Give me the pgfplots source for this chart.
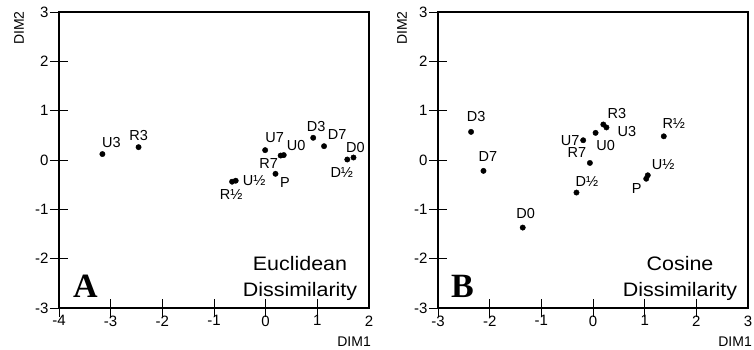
\documentclass[border=0pt]{standalone}
\usepackage{fontspec}
\setmainfont{Liberation Sans}
\newfontfamily\serifb{Liberation Serif}
\newfontfamily\widesans{Liberation Sans}[FakeStretch=1.1]
\usepackage{pgfplots}
\usepackage{pgfplotstable}
\pgfplotsset{compat=1.18}

\pgfplotstableread{
x y lab dx dy
-3.16 0.12 U3 9 11.5
-2.46 0.26 R3 0 12
-0.01 0.20 U7 9.5 12.5
0.35 0.10 U0 12.5 9.5
0.29 0.09 R7 -12 -7.5
0.92 0.45 D3 3 11.5
1.13 0.28 D7 13 12
1.70 0.05 D0 2 10.5
1.58 0.01 D½ -5.5 -13
0.19 -0.28 P 9.5 -8.5
-0.58 -0.42 U½ 18.5 0
-0.65 -0.44 R½ -1 -13
}\eucl

\pgfplotstableread{
x y lab dx dy
-2.36 0.57 D3 5 15
-2.12 -0.22 D7 4.5 14.5
-1.36 -1.37 D0 3 14.5
-0.32 -0.66 D½ 10.5 11.5
-0.06 -0.06 R7 -13 10
-0.19 0.40 U7 -13 0
0.05 0.55 U0 10 -12.5
0.20 0.72 R3 13.5 10.5
0.26 0.66 U3 20.5 -4
1.37 0.48 R½ 10 12.5
1.06 -0.31 U½ 15.5 11
1.03 -0.38 P -9.5 -9.5
}\cosn

\pgfplotsset{
  mds/.style={
    scale only axis, width=310pt, height=296pt,
    ymin=-3, ymax=3, ytick={-3,...,3},
    axis line style={line width=1.2pt, black},
    every tick/.style={black, line width=0.9pt},
    major tick length=18pt,
    xtick pos=bottom, ytick pos=left,
    xtick align=center, ytick align=center,
    xtick style={shorten <=9pt, shorten >=6pt},
    ytick style={shorten >=5pt},
    tick label style={font=\fontsize{15}{17}\selectfont},
    /pgf/number format/assume math mode=true,
    xticklabel style={yshift=5pt},
    yticklabel style={xshift=2pt},
    clip=false,
  },
  pts/.style={
    only marks, mark=*, mark size=2.7pt, black,
    point meta=explicit symbolic,
    visualization depends on={\thisrow{dx}\as\mydx},
    visualization depends on={\thisrow{dy}\as\mydy},
    nodes near coords,
    every node near coord/.append style={anchor=center, inner sep=0pt,
      xshift=\mydx pt, yshift=\mydy pt, font=\fontsize{14.5}{16}\selectfont},
  },
}

\begin{document}
\begin{tikzpicture}
\useasboundingbox (0pt,0pt) rectangle (754pt,350pt);
\begin{axis}[mds, name=pa, at={(59pt,42pt)}, anchor=south west,
  xmin=-4, xmax=2, xtick={-4,...,2}]
\addplot[pts] table[x=x, y=y, meta=lab] {\eucl};
\node[anchor=north east, inner sep=0pt, font=\fontsize{14}{16}\selectfont] at (rel axis cs:1,0) [yshift=-29pt, xshift=2pt] {DIM1};
\node[inner sep=0pt, font=\fontsize{14}{16}\selectfont, xshift=-40pt, yshift=-16pt, rotate=90] at (rel axis cs:0,1) {DIM2};
\node[anchor=base west, inner sep=0pt, font=\serifb\bfseries\fontsize{34}{36}\selectfont] at (rel axis cs:0,0) [xshift=14pt, yshift=10pt] {A};
\node[align=center, inner sep=0pt, font=\widesans\fontsize{19.5}{25}\selectfont, anchor=base] at (rel axis cs:0,0) [xshift=241pt, yshift=12pt] {Euclidean\\Dissimilarity};
\end{axis}
\begin{axis}[mds, name=pb, at={(438pt,42pt)}, anchor=south west,
  xmin=-3, xmax=3, xtick={-3,...,3}]
\addplot[pts] table[x=x, y=y, meta=lab] {\cosn};
\node[anchor=north east, inner sep=0pt, font=\fontsize{14}{16}\selectfont] at (rel axis cs:1,0) [yshift=-29pt, xshift=4pt] {DIM1};
\node[inner sep=0pt, font=\fontsize{14}{16}\selectfont, xshift=-36pt, yshift=-16pt, rotate=90] at (rel axis cs:0,1) {DIM2};
\node[anchor=base west, inner sep=0pt, font=\serifb\bfseries\fontsize{34}{36}\selectfont] at (rel axis cs:0,0) [xshift=13pt, yshift=10pt] {B};
\node[align=center, inner sep=0pt, font=\widesans\fontsize{19.5}{25}\selectfont, anchor=base] at (rel axis cs:0,0) [xshift=242pt, yshift=12pt] {Cosine\\Dissimilarity};
\end{axis}
\draw[line width=1.2pt, black] (59pt,42pt) rectangle (369pt,338pt);
\draw[line width=1.2pt, black] (438pt,42pt) rectangle (748pt,338pt);
\end{tikzpicture}
\end{document}
